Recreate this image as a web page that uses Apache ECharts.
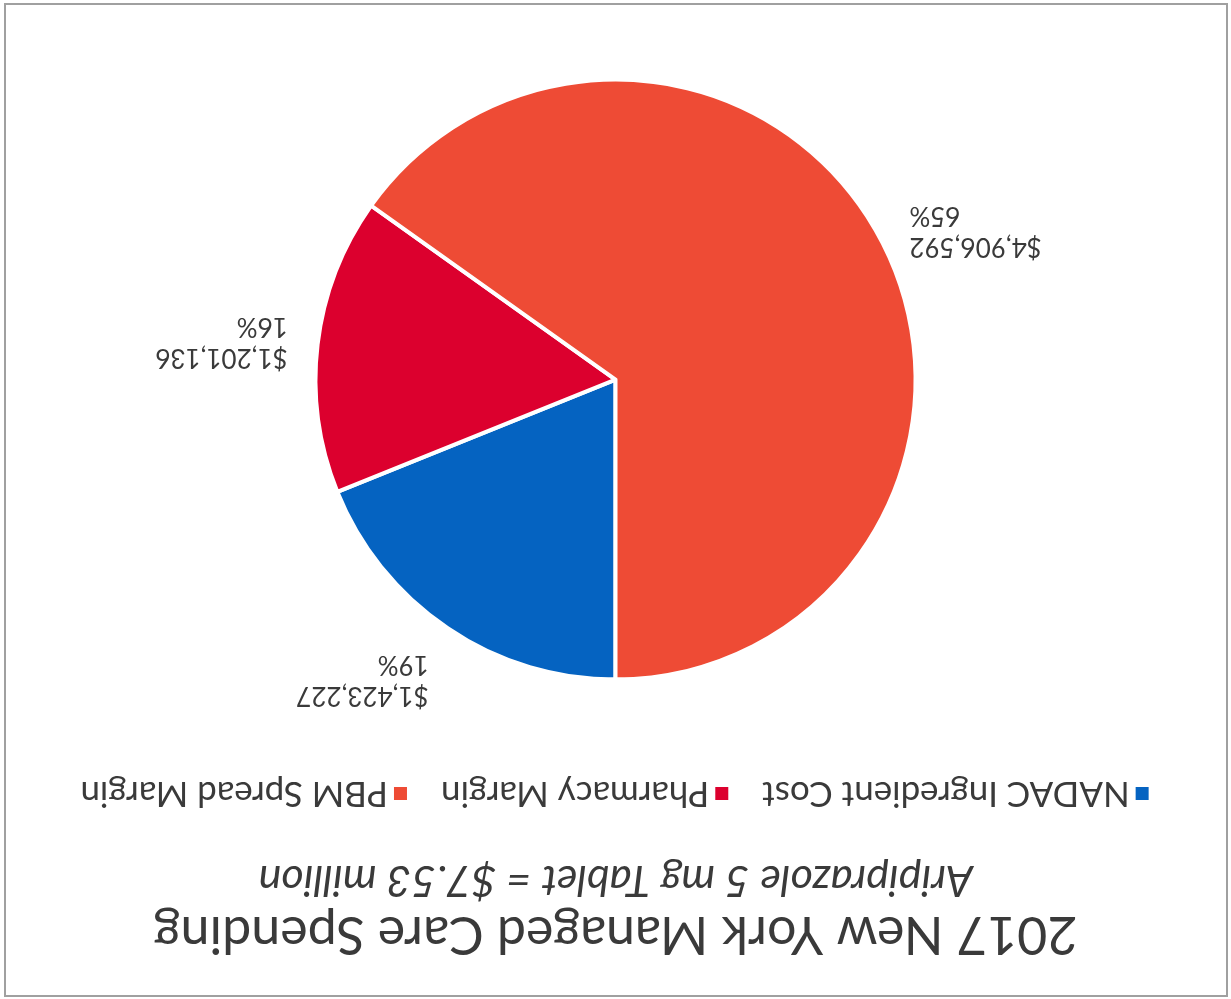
<!DOCTYPE html>
<html>
<head>
<meta charset="utf-8">
<script src="https://cdn.jsdelivr.net/npm/echarts@6/dist/echarts.min.js"></script>
<style>
  html, body { margin: 0; padding: 0; background: #fff; }
  #frame {
    position: absolute; left: 0; top: 0; width: 1231px; height: 999px;
    transform: rotate(180deg);
  }
  #border {
    position: absolute; left: 3px; top: 2px; right: 4px; bottom: 3px;
    border: 2px solid #a0a0a0;
  }
  #chart { position: absolute; left: 0; top: 0; width: 1231px; height: 999px; }
</style>
</head>
<body>
<div id="frame">
  <div id="border"></div>
  <div id="chart"></div>
</div>
<script>
const chartTitle = '2017 New York Managed Care Spending'
const chartSubtitle = 'Aripiprazole 5 mg Tablet = $7.53 million'
const categories = ['NADAC Ingredient Cost', 'Pharmacy Margin', 'PBM Spread Margin']
const spending = [1423227, 1201136, 4906592]
const sliceColors = ['#0563c1', '#dc002e', '#ee4b35']

const textColor = '#3a3a3a'
const fontFamily = 'Lato, "Open Sans", sans-serif'

const chart = echarts.init(document.getElementById('chart'))

chart.setOption({
  backgroundColor: 'transparent',
  animation: false,
  title: [
    {
      text: chartTitle,
      left: 'center',
      top: 34,
      textStyle: { color: textColor, fontFamily, fontSize: 52, fontWeight: 'normal' }
    },
    {
      text: chartSubtitle,
      left: 'center',
      top: 93,
      textStyle: { color: textColor, fontFamily, fontSize: 43, fontWeight: 'normal', fontStyle: 'italic' }
    }
  ],
  legend: {
    top: 183,
    left: 'center',
    icon: 'rect',
    itemWidth: 15,
    itemHeight: 15,
    itemGap: 32,
    textStyle: { color: textColor, fontFamily, fontSize: 35 },
    data: categories
  },
  series: [
    {
      type: 'pie',
      center: ['50%', '62%'],
      radius: 300,
      startAngle: 90,
      clockwise: true,
      itemStyle: { borderColor: '#fff', borderWidth: 4 },
      label: {
        show: true,
        position: 'outside',
        color: textColor,
        fontFamily,
        fontSize: 26,
        lineHeight: 31,
        formatter: (p) => '$' + p.value.toLocaleString('en-US') + '\n' + Math.round(p.percent) + '%'
      },
      labelLine: { show: false, length: 25, length2: 0 },
      // 标签贴近扇区外缘，上方的扇区标签整体放到锚点上方
      labelLayout: (params) => {
        const pts = params.labelLinePoints
        if (!pts) return {}
        const dy = pts[1][1] - pts[0][1]
        const dx = pts[1][0] - pts[0][0]
        const len = Math.sqrt(dx * dx + dy * dy) || 1
        const ny = dy / len
        return { verticalAlign: ny < -0.5 ? 'bottom' : ny > 0.5 ? 'top' : 'middle' }
      },
      data: categories.map((name, i) => ({
        name,
        value: spending[i],
        itemStyle: { color: sliceColors[i] }
      }))
    }
  ]
})
</script>
</body>
</html>
